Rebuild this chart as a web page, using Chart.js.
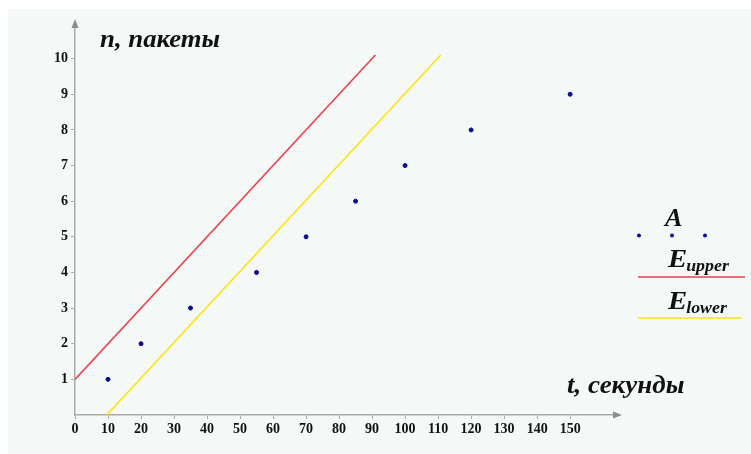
<!DOCTYPE html>
<html>
<head>
<meta charset="utf-8">
<script src="https://cdn.jsdelivr.net/npm/chart.js@4"></script>
<style>
html,body{margin:0;padding:0;background:#ffffff;}
#wrap{position:absolute;left:0;top:0;width:751px;height:454px;}
</style>
</head>
<body>
<div id="wrap"><canvas id="c"></canvas></div>
<script>
// ---- data ----
const tValues = [10, 20, 35, 55, 70, 85, 100, 120, 150];
const nValues = [1, 2, 3, 4, 5, 6, 7, 8, 9];
const upperT = [0, 91];
const upperN = [1, 10.1];
const lowerT = [9.6, 110.8];
const lowerN = [0, 10.1];
const xTickValues = [0,10,20,30,40,50,60,70,80,90,100,110,120,130,140,150];
const yTickValues = [1,2,3,4,5,6,7,8,9,10];
const xTitle = 't, секунды';
const yTitle = 'n, пакеты';
const legendTitle = 'A';
const seriesNames = ['E', 'E'];
const seriesSubs = ['upper', 'lower'];

const AXIS = '#ababab';
const RED = '#ee3f4d';
const YEL = '#fde40c';
const DOT = '#0a0a8c';
const SERIF = '"Liberation Serif","DejaVu Serif",serif';

const zip = (xs, ys) => xs.map((x, i) => ({x, y: ys[i]}));

function stretchText(c, txt, x, y, sx) {
  c.save();
  c.translate(x, y);
  c.scale(sx, 1);
  c.fillText(txt, 0, 0);
  const w = c.measureText(txt).width * sx;
  c.restore();
  return w;
}

const deco = {
  id: 'deco',
  beforeDraw(chart) {
    const c = chart.ctx;
    c.save();
    c.fillStyle = '#ffffff';
    c.fillRect(0, 0, chart.width, chart.height);
    c.fillStyle = '#f4f8f6';
    c.fillRect(8, 9, chart.width - 8, chart.height - 9);
    c.restore();
  },
  afterDraw(chart) {
    const c = chart.ctx;
    const xs = chart.scales.x, ys = chart.scales.y;
    const x0 = xs.getPixelForValue(0), y0 = ys.getPixelForValue(0);
    const xEnd = chart.chartArea.right, yEnd = chart.chartArea.top;
    c.save();
    c.fillStyle = '#8c8c8c';
    // x arrow
    c.beginPath();
    c.moveTo(xEnd + 4, y0); c.lineTo(xEnd - 5, y0 - 3.5); c.lineTo(xEnd - 5, y0 + 3.5); c.closePath(); c.fill();
    // y arrow
    c.beginPath();
    c.moveTo(x0, yEnd - 4); c.lineTo(x0 - 3.5, yEnd + 5); c.lineTo(x0 + 3.5, yEnd + 5); c.closePath(); c.fill();
    // titles
    c.fillStyle = '#111';
    c.font = 'italic bold 25px ' + SERIF;
    c.textBaseline = 'alphabetic';
    c.textAlign = 'left';
    stretchText(c, yTitle, 100, 47, 1.07);
    stretchText(c, xTitle, 567, 393, 1.08);
    // legend
    stretchText(c, legendTitle, 665, 226, 1.05);
    const ds0 = chart.data.datasets[0];
    [639, 672, 705].forEach(px => {
      c.beginPath(); c.fillStyle = ds0.backgroundColor;
      c.arc(px, 235.5, 2, 0, Math.PI * 2); c.fill();
    });
    const rows = [{y: 267, line: 277, ds: chart.data.datasets[1], x2: 745},
                  {y: 309, line: 318, ds: chart.data.datasets[2], x2: 742}];
    rows.forEach((r, i) => {
      c.fillStyle = '#111';
      c.font = 'italic bold 25px ' + SERIF;
      const w = stretchText(c, seriesNames[i], 668, r.y, 1.15);
      c.font = 'italic bold 17px ' + SERIF;
      stretchText(c, seriesSubs[i], 668 + w - 1, r.y + 4, 1.05);
      c.strokeStyle = r.ds.borderColor; c.lineWidth = 1.6;
      c.beginPath(); c.moveTo(638, r.line); c.lineTo(r.x2, r.line); c.stroke();
    });
    c.restore();
  }
};

new Chart(document.getElementById('c'), {
  type: 'scatter',
  data: {
    datasets: [
      {label: 'A', data: zip(tValues, nValues), backgroundColor: DOT, borderColor: DOT,
       pointRadius: 2, pointHoverRadius: 2, showLine: false, order: 0},
      {label: 'E_upper', data: zip(upperT, upperN), borderColor: RED, backgroundColor: RED,
       showLine: true, pointRadius: 0, borderWidth: 1.6, order: 1},
      {label: 'E_lower', data: zip(lowerT, lowerN), borderColor: YEL, backgroundColor: YEL,
       showLine: true, pointRadius: 0, borderWidth: 1.6, order: 2}
    ]
  },
  options: {
    responsive: true,
    maintainAspectRatio: false,
    animation: false,
    events: [],
    layout: {padding: {left: 0, right: 133, top: 23, bottom: 0}},
    plugins: {legend: {display: false}, tooltip: {enabled: false}},
    scales: {
      x: {
        type: 'linear', min: 0, max: 164.5,
        afterBuildTicks: s => { s.ticks = xTickValues.map(v => ({value: v})); },
        afterFit: s => { s.height = 39; },
        border: {color: AXIS, width: 1.5},
        grid: {display: true, drawOnChartArea: false, drawTicks: true, tickLength: 4, color: AXIS},
        ticks: {color: '#111', padding: 2, maxRotation: 0, autoSkip: false,
                font: {family: SERIF, weight: 'bold', size: 14}}
      },
      y: {
        type: 'linear', min: 0, max: 11,
        afterBuildTicks: s => { s.ticks = yTickValues.map(v => ({value: v})); },
        afterFit: s => { s.width = 75; },
        border: {color: AXIS, width: 1.5},
        grid: {display: true, drawOnChartArea: false, drawTicks: true, tickLength: 4, color: AXIS},
        ticks: {color: '#111', padding: 3, autoSkip: false,
                font: {family: SERIF, weight: 'bold', size: 14}}
      }
    }
  },
  plugins: [deco]
});
</script>
</body>
</html>
